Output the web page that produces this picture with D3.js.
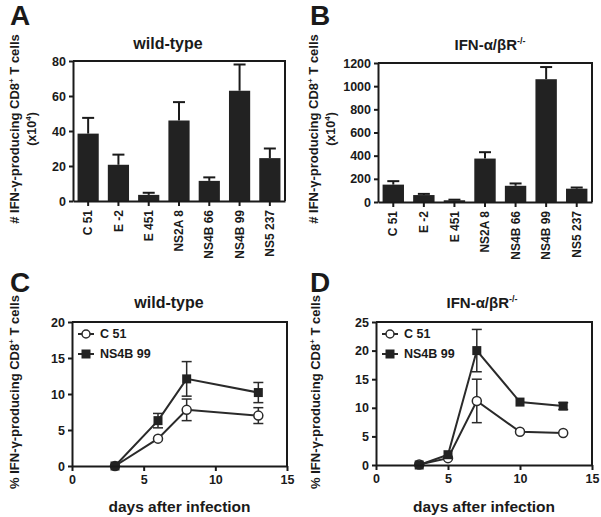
<!DOCTYPE html>
<html><head><meta charset="utf-8">
<script src="https://cdn.jsdelivr.net/npm/d3@7"></script>
<style>
body{margin:0;background:#fff;}
svg text{font-family:"Liberation Sans",Arial,Helvetica,sans-serif;font-weight:bold;fill:#1a1a1a;}
</style></head><body>
<script>
// ---------- data ----------
const epitopes = ["C 51","E -2","E 451","NS2A 8","NS4B 66","NS4B 99","NS5 237"];
const wtCounts = [38.5, 20.7, 3.5, 46, 11.5, 63, 24.5];
const wtCountsErr = [9, 5.8, 1.2, 10.5, 2, 15, 5.5];
const koCounts = [150, 60, 15, 375, 140, 1060, 115];
const koCountsErr = [30, 10, 5, 55, 20, 105, 10];
const wtTicks = [0, 20, 40, 60, 80];
const koTicks = [0, 200, 400, 600, 800, 1000, 1200];

const wtDays = [3, 6, 8, 13];
const wtC51 = [0, 3.8, 7.8, 7.0];
const wtC51Err = [0.1, 0.3, 1.5, 1.1];
const wtNS4B = [0, 6.3, 12.1, 10.2];
const wtNS4BErr = [0.1, 1.0, 2.4, 1.4];

const koDays = [3, 5, 7, 10, 13];
const koC51 = [0.1, 1.2, 11.2, 5.8, 5.6];
const koC51Err = [0.1, 0.2, 3.8, 0.2, 0.2];
const koNS4B = [0, 1.8, 20, 11, 10.3];
const koNS4BErr = [0.1, 0.2, 3.7, 0.3, 0.6];

const dayTicks = [0, 5, 10, 15];
const seriesNames = ["C 51", "NS4B 99"];

// ---------- drawing ----------
const W = 601, H = 517;
const svg = d3.select("body").append("svg").attr("width", W).attr("height", H);
const ink = "#1a1a1a";

function panelLetter(t, x, y){
  svg.append("text").attr("x", x).attr("y", y).attr("font-size", 28).text(t);
}
function titleText(g, x, y, ko){
  const t = g.append("text").attr("x", x).attr("y", y).attr("text-anchor","middle").attr("font-size", ko?15:16);
  if(ko){
    t.append("tspan").text("IFN-α/βR");
    t.append("tspan").attr("font-size", 9).attr("dy", -6).text("-/-");
  } else t.text("wild-type");
}
function yLabel(x, cy, prefix, second){
  const t = svg.append("text").attr("transform", `translate(${x},${cy}) rotate(-90)`)
    .attr("text-anchor","middle").attr("font-size", 13);
  t.append("tspan").text(prefix + " IFN-γ-producing CD8");
  t.append("tspan").attr("font-size", 8).attr("dy", -5).text("+");
  t.append("tspan").attr("dy", 5).text(" T cells");
  if(second){
    const t2 = svg.append("text").attr("transform", `translate(${x+17},${cy}) rotate(-90)`)
      .attr("text-anchor","middle").attr("font-size", 12.5);
    t2.append("tspan").text("(x10");
    t2.append("tspan").attr("font-size", 8).attr("dy", -5).text("4");
    t2.append("tspan").attr("dy", 5).text(")");
  }
}
function styleAxis(a){
  a.attr("font-family", null).attr("font-size", null);
  a.select(".domain").attr("stroke",ink).attr("stroke-width",2);
  a.selectAll(".tick line").attr("stroke",ink).attr("stroke-width",2);
  a.selectAll("text").attr("font-size",12.5).attr("fill",ink);
}

function barPanel(x0, x1, yTop, y0, vals, errs, ticks){
  const x = d3.scaleBand().domain(epitopes).range([x0, x1]).paddingInner(0.3).paddingOuter(0.15);
  const y = d3.scaleLinear().domain([0, ticks[ticks.length-1]]).range([y0, yTop]);
  const g = svg.append("g");
  epitopes.forEach((c,i)=>{
    const cx = x(c) + x.bandwidth()/2;
    g.append("line").attr("x1",cx).attr("x2",cx).attr("y1",y(vals[i])).attr("y2",y(vals[i]+errs[i]))
      .attr("stroke",ink).attr("stroke-width",2);
    g.append("line").attr("x1",cx-6).attr("x2",cx+6).attr("y1",y(vals[i]+errs[i])).attr("y2",y(vals[i]+errs[i]))
      .attr("stroke",ink).attr("stroke-width",2);
  });
  g.selectAll("rect.bar").data(vals).join("rect").attr("class","bar")
    .attr("x",(d,i)=>x(epitopes[i])).attr("width",x.bandwidth())
    .attr("y",d=>y(d)).attr("height",d=>y0-y(d)).attr("fill","#222");
  g.append("path").attr("d",`M${x0},${yTop}H${x1}V${y0}`).attr("fill","none").attr("stroke",ink).attr("stroke-width",2);
  const ya = g.append("g").attr("transform",`translate(${x0},0)`)
    .call(d3.axisLeft(y).tickValues(ticks).tickFormat(d3.format("d")).tickSize(4).tickSizeOuter(0).tickPadding(3));
  const xa = g.append("g").attr("transform",`translate(0,${y0})`)
    .call(d3.axisBottom(x).tickSize(5).tickSizeOuter(0).tickPadding(5));
  styleAxis(ya); styleAxis(xa);
  xa.selectAll(".tick text").attr("font-size",12).attr("transform","rotate(-90)").attr("text-anchor","end")
    .attr("x",-9).attr("y",0).attr("dy","0.35em");
}

function linePanel(x0, x1, yTop, y0, ymax, yticks, days, s1, e1, s2, e2){
  const x = d3.scaleLinear().domain([0,15]).range([x0,x1]);
  const y = d3.scaleLinear().domain([0,ymax]).range([y0,yTop]);
  const g = svg.append("g");
  const line = d3.line().x((d,i)=>x(days[i])).y(d=>y(d));
  const col = "#2a2a2a";
  [[s1,e1],[s2,e2]].forEach(([s,e])=>{
    g.append("path").attr("d",line(s)).attr("fill","none").attr("stroke",col).attr("stroke-width",2);
    s.forEach((v,i)=>{
      if(e[i] < 0.5) return;
      const cx = x(days[i]);
      g.append("line").attr("x1",cx).attr("x2",cx).attr("y1",y(v-e[i])).attr("y2",y(v+e[i])).attr("stroke",col).attr("stroke-width",1.5);
      [v-e[i], v+e[i]].forEach(t=>g.append("line").attr("x1",cx-5).attr("x2",cx+5).attr("y1",y(t)).attr("y2",y(t)).attr("stroke",col).attr("stroke-width",1.5));
    });
  });
  s1.forEach((v,i)=>g.append("circle").attr("cx",x(days[i])).attr("cy",y(v)).attr("r",4.5)
    .attr("fill","#fff").attr("stroke",col).attr("stroke-width",1.5));
  s2.forEach((v,i)=>g.append("rect").attr("x",x(days[i])-4.5).attr("y",y(v)-4.5).attr("width",9).attr("height",9)
    .attr("fill","#222"));
  g.append("path").attr("d",`M${x0},${yTop}H${x1}V${y0}`).attr("fill","none").attr("stroke",ink).attr("stroke-width",2);
  const ya = g.append("g").attr("transform",`translate(${x0},0)`)
    .call(d3.axisLeft(y).tickValues(yticks).tickSize(4).tickSizeOuter(0).tickPadding(3));
  const xa = g.append("g").attr("transform",`translate(0,${y0})`)
    .call(d3.axisBottom(x).tickValues(dayTicks).tickSize(5).tickSizeOuter(0).tickPadding(4));
  styleAxis(ya); styleAxis(xa);
  const lx = x0 + 6, ly1 = yTop + 12, ly2 = yTop + 32;
  [ly1, ly2].forEach((ly,k)=>{
    g.append("line").attr("x1",lx).attr("x2",lx+16).attr("y1",ly).attr("y2",ly).attr("stroke",col).attr("stroke-width",2);
    if(k===0) g.append("circle").attr("cx",lx+8).attr("cy",ly).attr("r",4).attr("fill","#fff").attr("stroke",col).attr("stroke-width",1.5);
    else g.append("rect").attr("x",lx+3.5).attr("y",ly-4.5).attr("width",9).attr("height",9).attr("fill","#222");
    g.append("text").attr("x",lx+22).attr("y",ly).attr("dy","0.35em").attr("font-size",12.5).text(seriesNames[k]);
  });
  svg.append("text").attr("x",(x0+x1)/2).attr("y",512).attr("text-anchor","middle").attr("font-size",15.5).text("days after infection");
}

// Panel A
panelLetter("A", 10, 25);
titleText(svg, 168, 49, false);
yLabel(19, 129, "#", true);
barPanel(73, 285, 61, 201, wtCounts, wtCountsErr, wtTicks);

// Panel B
panelLetter("B", 310, 25);
titleText(svg, 490, 50, true);
yLabel(318, 129, "#", true);
barPanel(378, 592, 63, 202, koCounts, koCountsErr, koTicks);

// Panel C
panelLetter("C", 10, 292);
titleText(svg, 169, 308, false);
yLabel(19, 392, "%", false);
linePanel(72, 287, 322, 466, 20, [0,5,10,15,20], wtDays, wtC51, wtC51Err, wtNS4B, wtNS4BErr);

// Panel D
panelLetter("D", 310, 292);
titleText(svg, 482, 308, true);
yLabel(320, 392, "%", false);
linePanel(376, 592, 322, 465, 25, [0,5,10,15,20,25], koDays, koC51, koC51Err, koNS4B, koNS4BErr);
</script>
</body></html>
